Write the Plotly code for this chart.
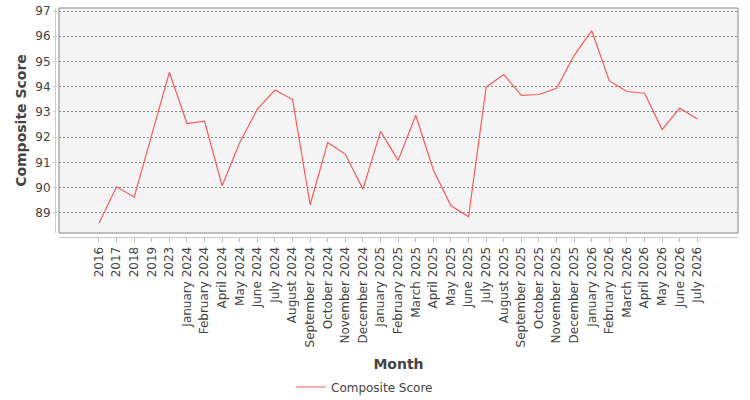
import plotly.graph_objects as go

months = ["2016", "2017", "2018", "2019", "2023",
          "January 2024", "February 2024", "April 2024", "May 2024", "June 2024",
          "July 2024", "August 2024", "September 2024", "October 2024", "November 2024",
          "December 2024", "January 2025", "February 2025", "March 2025", "April 2025",
          "May 2025", "June 2025", "July 2025", "August 2025", "September 2025",
          "October 2025", "November 2025", "December 2025", "January 2026", "February 2026",
          "March 2026", "April 2026", "May 2026", "June 2026", "July 2026"]
scores = [88.59, 90.03, 89.62, 92.1, 94.57,
          92.54, 92.63, 90.07, 91.79, 93.11,
          93.87, 93.49, 89.32, 91.79, 91.32,
          89.94, 92.23, 91.08, 92.87, 90.70,
          89.28, 88.84, 93.98, 94.48, 93.66,
          93.69, 93.94, 95.24, 96.22, 94.23,
          93.81, 93.74, 92.30, 93.15, 92.72]
y_ticks = [89, 90, 91, 92, 93, 94, 95, 96, 97]

FONT = "DejaVu Sans"
L, R, T, B = 55, 12, 8, 163
W, H = 750, 400
pw = W - L - R
ph = H - T - B

fig = go.Figure()
fig.add_trace(go.Scatter(
    x=months, y=scores, mode="lines", name="Composite Score",
    line=dict(color="#ff5a5a", width=1.2),
))

fig.update_layout(
    width=W, height=H,
    margin=dict(l=L, r=R, t=T, b=B),
    paper_bgcolor="white",
    plot_bgcolor="#f4f4f4",
    font=dict(family=FONT, color="#444444", size=12),
    showlegend=True,
    legend=dict(orientation="h", x=(299 - L - 8) / pw, xanchor="left",
                y=(400 - 387) / 400, yanchor="middle", yref="container",
                font=dict(size=12, color="#444444"), itemwidth=30),
    xaxis=dict(
        type="category",
        automargin=False,
        domain=[4 / pw, 1],
        anchor="free", position=0,
        range=[-2.27, 36.31],
        tickangle=-90,
        tickfont=dict(size=12, color="#444444"),
        ticks="outside", ticklen=4, tickcolor="#bbbbbb",
        showline=True, linecolor="#cccccc", linewidth=1,
        showgrid=False, zeroline=False,
        title=dict(text="<b>Month</b>", font=dict(size=14, color="#444444"), standoff=14),
    ),
    yaxis=dict(
        automargin=False,
        domain=[4 / ph, 1],
        anchor="free", position=0,
        range=[88.2, 97.12],
        tickvals=y_ticks,
        tickfont=dict(size=12, color="#444444"),
        ticks="outside", ticklen=2, tickcolor="#cccccc",
        showline=True, linecolor="#cccccc", linewidth=1,
        showgrid=True, gridcolor="#888888", griddash="2px,2px", gridwidth=1,
        zeroline=False,
        title=dict(text="<b>Composite Score</b>", font=dict(size=14, color="#444444"), standoff=4),
    ),
)
fig.add_shape(type="rect", xref="x domain", yref="y domain", x0=0, x1=1, y0=0, y1=1,
              line=dict(color="#888888", width=1), fillcolor="rgba(0,0,0,0)", layer="above")

fig.write_html("out.html")
